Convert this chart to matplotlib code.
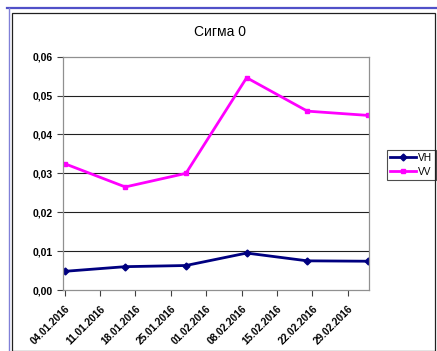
import matplotlib
matplotlib.use("Agg")
import matplotlib.pyplot as plt
import matplotlib.dates as mdates
from matplotlib.patches import Rectangle
from matplotlib.lines import Line2D
from matplotlib.ticker import FuncFormatter
import datetime as dt

plt.rcParams['font.family'] = ['Liberation Sans', 'DejaVu Sans']

dates = ["04.01.2016", "16.01.2016", "28.01.2016", "09.02.2016", "21.02.2016", "04.03.2016"]
vh = [0.0048, 0.0060, 0.0063, 0.0095, 0.0075, 0.0074]
vv = [0.0325, 0.0265, 0.0300, 0.0546, 0.0460, 0.0449]
yticks = [0.00, 0.01, 0.02, 0.03, 0.04, 0.05, 0.06]

x = [dt.datetime.strptime(d, "%d.%m.%Y") for d in dates]

fig = plt.figure(figsize=(4.37, 3.51), dpi=100)

# selection frame and chart border
fig.add_artist(Line2D([7/437, 1], [1 - 8/351, 1 - 8/351], color="#5050c8", lw=1.6, transform=fig.transFigure))
fig.add_artist(Line2D([9/437, 9/437], [0, 1 - 8/351], color="#8080d8", lw=1.0, transform=fig.transFigure))
fig.add_artist(Rectangle((12/437, 0.5/351), 423/437, (351 - 13.5)/351, fill=False,
                         edgecolor="#202020", lw=0.9, transform=fig.transFigure))

ax = fig.add_axes([63.3/437, 1 - 290/351, (369.3 - 63.3)/437, (290 - 56.7)/351])
ax.plot(x, vh, color="#000080", lw=2.0, marker="D", ms=3.5, label="VH")
ax.plot(x, vv, color="#ff00ff", lw=2.0, marker="s", ms=3.5, label="VV")

ax.set_ylim(0, 0.06)
ax.set_yticks(yticks)
ax.yaxis.set_major_formatter(FuncFormatter(lambda v, p: f"{v:.2f}".replace(".", ",")))
for t in yticks[1:-1]:
    ax.axhline(t, color="#202020", lw=0.8, zorder=0)

ax.set_xlim(x[0] - dt.timedelta(hours=6), x[-1] + dt.timedelta(hours=6))
xt = [x[0] + dt.timedelta(days=7 * i) for i in range(9)]
ax.set_xticks(xt)
ax.xaxis.set_major_formatter(mdates.DateFormatter("%d.%m.%Y"))

for s in ax.spines.values():
    s.set_color("#909090")
    s.set_linewidth(0.9)

ax.tick_params(axis="both", direction="out", length=4, width=0.8, color="#404040")
ax.tick_params(axis="x", pad=6)
for lab in ax.get_yticklabels():
    lab.set_fontsize(7.5)
    lab.set_fontweight("bold")
for lab in ax.get_xticklabels():
    lab.set_fontsize(7.3)
    lab.set_fontweight("bold")
    lab.set_rotation(45)
    lab.set_ha("right")
    lab.set_rotation_mode("anchor")

fig.text(220/437, 1 - 32/351, "Сигма 0", ha="center", va="center", fontsize=10)

leg = ax.legend(loc="center left", bbox_to_anchor=(387/437, 1 - 165/351), bbox_transform=fig.transFigure,
                frameon=True, fancybox=False, fontsize=7.3, handlelength=2.6, handletextpad=0.2,
                borderpad=0.3, labelspacing=0.4, borderaxespad=0)
leg.get_frame().set_edgecolor("#202020")
leg.get_frame().set_linewidth(0.8)

fig.savefig("out.png", dpi=100)
